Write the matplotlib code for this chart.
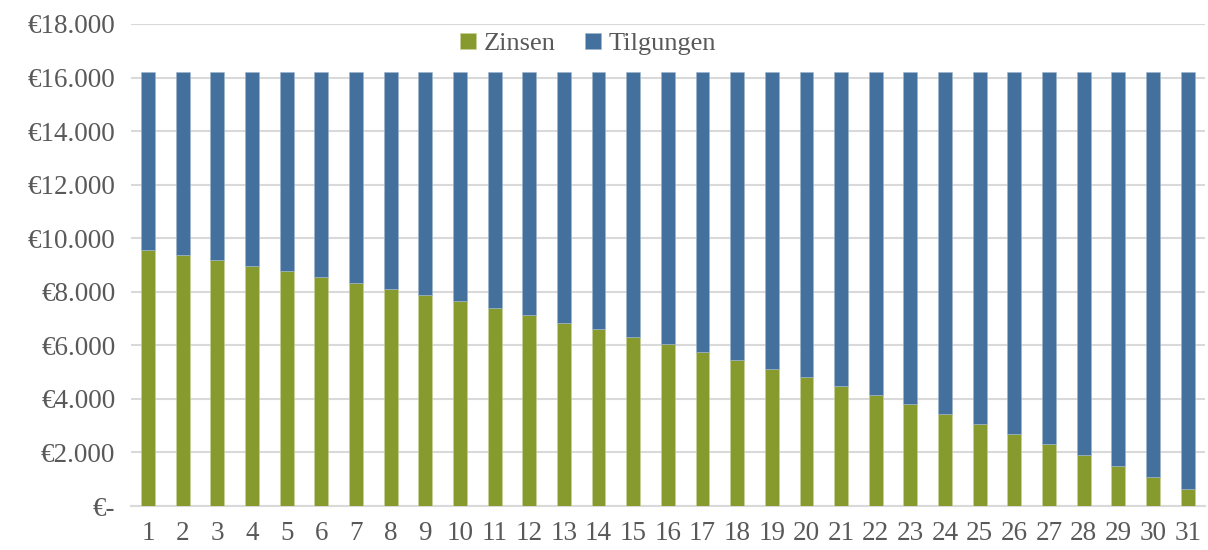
import matplotlib
matplotlib.use("Agg")
import matplotlib.pyplot as plt
from matplotlib.ticker import FuncFormatter, MultipleLocator
import numpy as np

# Jahre 1..31
jahre = [str(i) for i in range(1, 32)]

zinsen = [9560, 9370, 9180, 8970, 8760, 8540, 8330, 8100, 7880, 7640,
          7390, 7130, 6840, 6600, 6320, 6040, 5740, 5440, 5130, 4810,
          4470, 4130, 3800, 3450, 3070, 2690, 2300, 1890, 1480, 1070, 630]

tilgungen = [6630, 6820, 7010, 7220, 7430, 7650, 7860, 8090, 8310, 8550,
             8800, 9060, 9350, 9590, 9870, 10150, 10450, 10750, 11060, 11380,
             11720, 12060, 12390, 12740, 13120, 13500, 13890, 14300, 14710, 15120, 15560]

green = '#869a2e'
blue = '#43709d'
text_col = '#595959'
grid_col = '#d9d9d9'

plt.rcParams['font.family'] = ['Liberation Serif', 'DejaVu Serif']

fig = plt.figure(figsize=(12.08, 5.5), dpi=100)
ax = fig.add_axes([0.1082, 0.08, 0.8893, 0.8764])

x = np.arange(len(jahre))
ax.bar(x, zinsen, width=0.4, color=green, edgecolor='#c8d29a', linewidth=0.4, label='Zinsen', zorder=3)
ax.bar(x, tilgungen, width=0.4, bottom=zinsen, color=blue, edgecolor='#9fb5cc', linewidth=0.4,
       label='Tilgungen', zorder=3)

ax.set_xlim(-0.5, len(jahre) - 0.5)
ax.set_ylim(0, 18000)
ax.yaxis.set_major_locator(MultipleLocator(2000))


def euro(v, pos):
    if v == 0:
        return '€-'
    return '€' + f'{v:,.0f}'.replace(',', '.')


ax.yaxis.set_major_formatter(FuncFormatter(euro))
ax.set_xticks(x)
ax.set_xticklabels(jahre)

ax.grid(axis='y', color=grid_col, linewidth=1.5, zorder=0)
for s in ['top', 'right', 'left']:
    ax.spines[s].set_visible(False)
ax.spines['bottom'].set_color(grid_col)
ax.spines['bottom'].set_linewidth(1.5)
ax.tick_params(axis='both', length=0, colors=text_col, labelsize=19.5)
ax.tick_params(axis='y', pad=11)
ax.tick_params(axis='x', pad=11)

fig.legend(loc='center', bbox_to_anchor=(0.487, 0.92), ncol=2, frameon=False,
           fontsize=19, labelcolor=text_col, handlelength=0.6, handleheight=0.6,
           handletextpad=0.3, columnspacing=1.1)

fig.savefig('out.png', dpi=100)
